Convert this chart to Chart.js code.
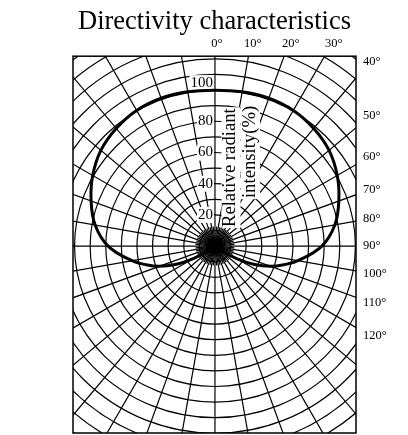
<!DOCTYPE html>
<html>
<head>
<meta charset="utf-8">
<script src="https://cdn.jsdelivr.net/npm/chart.js@4.4.0/dist/chart.umd.min.js"></script>
<style>
	body { margin: 0; background: #fff; }
</style>
</head>
<body>
<canvas id="myChart" width="408" height="435"></canvas>
<script>
// angle from the axis (deg) and relative radiant intensity (%), same on both sides
const angle = [0, 10, 20, 30, 40, 50, 60, 70, 80, 90, 100, 105, 110, 115, 120, 125, 128];
const intensity = [100, 100.5, 101, 100.5, 98.5, 95.5, 90.5, 84.5, 78, 68.5, 54, 46, 38, 28, 16, 5, 0];

const radiusTicks = [20, 40, 60, 80, 100];
const topAngles = [0, 10, 20, 30];
const sideAngles = [40, 50, 60, 70, 80, 90, 100, 110, 120];
const axisTitle = ['Relative radiant', 'intensity(%)'];

const serif = '"Liberation Serif", "Times New Roman", serif';

// polar -> x/y (0 deg = straight up)
let points = [];
for (let i = angle.length - 1; i >= 0; i--) {
	let t = -angle[i] * Math.PI / 180;
	points.push({ x: intensity[i] * Math.sin(t), y: intensity[i] * Math.cos(t) });
}
for (let i = 1; i < angle.length; i++) {
	let t = angle[i] * Math.PI / 180;
	points.push({ x: intensity[i] * Math.sin(t), y: intensity[i] * Math.cos(t) });
}

function whiteText(ctx, txt, x, y) {
	let w = ctx.measureText(txt).width;
	let left = ctx.textAlign === 'right' ? x - w : (ctx.textAlign === 'center' ? x - w / 2 : x);
	ctx.fillStyle = '#fff';
	ctx.fillRect(left - 1, y - 8, w + 2, 16);
	ctx.fillStyle = '#000';
	ctx.fillText(txt, x, y);
}

const polarGrid = {
	id: 'polarGrid',
	beforeDatasetsDraw(chart) {
		const { ctx, chartArea: a, scales: { x, y } } = chart;
		const cx = x.getPixelForValue(0), cy = y.getPixelForValue(0);
		const unit = x.getPixelForValue(10) - cx;

		ctx.save();
		ctx.beginPath();
		ctx.rect(a.left, a.top, a.right - a.left, a.bottom - a.top);
		ctx.clip();
		ctx.strokeStyle = '#000';
		ctx.lineWidth = 1.2;
		for (let i = 1; i <= 17; i++) {
			ctx.beginPath();
			ctx.arc(cx, cy, i * unit, 0, Math.PI * 2);
			ctx.stroke();
		}
		for (let d = 0; d < 360; d += 5) {
			let len = d % 10 === 0 ? 400 : unit * 1.25;
			let t = d * Math.PI / 180;
			ctx.beginPath();
			ctx.moveTo(cx, cy);
			ctx.lineTo(cx + len * Math.sin(t), cy - len * Math.cos(t));
			ctx.stroke();
		}
		ctx.beginPath();
		ctx.arc(cx, cy, 5, 0, Math.PI * 2);
		ctx.fillStyle = '#000';
		ctx.fill();

		// radius labels
		ctx.font = '15px ' + serif;
		ctx.textAlign = 'right';
		ctx.textBaseline = 'middle';
		radiusTicks.forEach((v) => {
			let py = y.getPixelForValue(v) + (v === 100 ? -7 : 0);
			whiteText(ctx, String(v), cx - 2, py);
		});

		// rotated axis title
		ctx.font = '18.7px ' + serif;
		ctx.textAlign = 'left';
		ctx.textBaseline = 'alphabetic';
		axisTitle.forEach((txt, i) => {
			ctx.save();
			ctx.translate(cx + 20.5 + i * 19.5, cy - 19 - i * 29);
			ctx.rotate(-Math.PI / 2);
			let w = ctx.measureText(txt).width;
			ctx.fillStyle = '#fff';
			ctx.fillRect(-1, -14, w + 2, 19);
			ctx.fillStyle = '#000';
			ctx.fillText(txt, 0, 0);
			ctx.restore();
		});
		ctx.restore();
	},
	afterDraw(chart) {
		const { ctx, chartArea: a, scales: { x, y } } = chart;
		const cx = x.getPixelForValue(0), cy = y.getPixelForValue(0);
		ctx.save();
		ctx.strokeStyle = '#000';
		ctx.lineWidth = 1.5;
		ctx.strokeRect(a.left, a.top, a.right - a.left, a.bottom - a.top);

		ctx.fillStyle = '#000';
		ctx.font = '12.5px ' + serif;
		ctx.textBaseline = 'middle';
		ctx.textAlign = 'center';
		let ty = a.top - 12.5;
		topAngles.forEach((d) => {
			let t = d * Math.PI / 180;
			ctx.fillText(d + '°', cx + 2 + (cy - ty) * Math.tan(t), ty);
		});
		ctx.textAlign = 'left';
		sideAngles.forEach((d) => {
			let t = d * Math.PI / 180;
			ctx.fillText(d + '°', a.right + 7, cy - 155 / Math.tan(t));
		});
		ctx.restore();
	}
};

const ctx = document.getElementById('myChart');

new Chart(ctx, {
	type: 'scatter',
	data: {
		datasets: [{
			data: points,
			showLine: true,
			borderColor: '#000',
			borderWidth: 3,
			pointRadius: 0,
			tension: 0.4,
			fill: false
		}]
	},
	options: {
		responsive: false,
		animation: false,
		layout: { padding: { left: 73, right: 52, top: 0, bottom: 2 } },
		scales: {
			x: { type: 'linear', display: false, min: -91, max: 90.4 },
			y: { type: 'linear', display: false, min: -119.9, max: 121.8 }
		},
		plugins: {
			legend: { display: false },
			tooltip: { enabled: false },
			title: {
				display: true,
				text: 'Directivity characteristics',
				color: '#000',
				font: { family: serif, size: 26.5, weight: 'normal' },
				padding: { top: 6, bottom: 18.4 }
			}
		}
	},
	plugins: [polarGrid]
});
</script>
</body>
</html>
